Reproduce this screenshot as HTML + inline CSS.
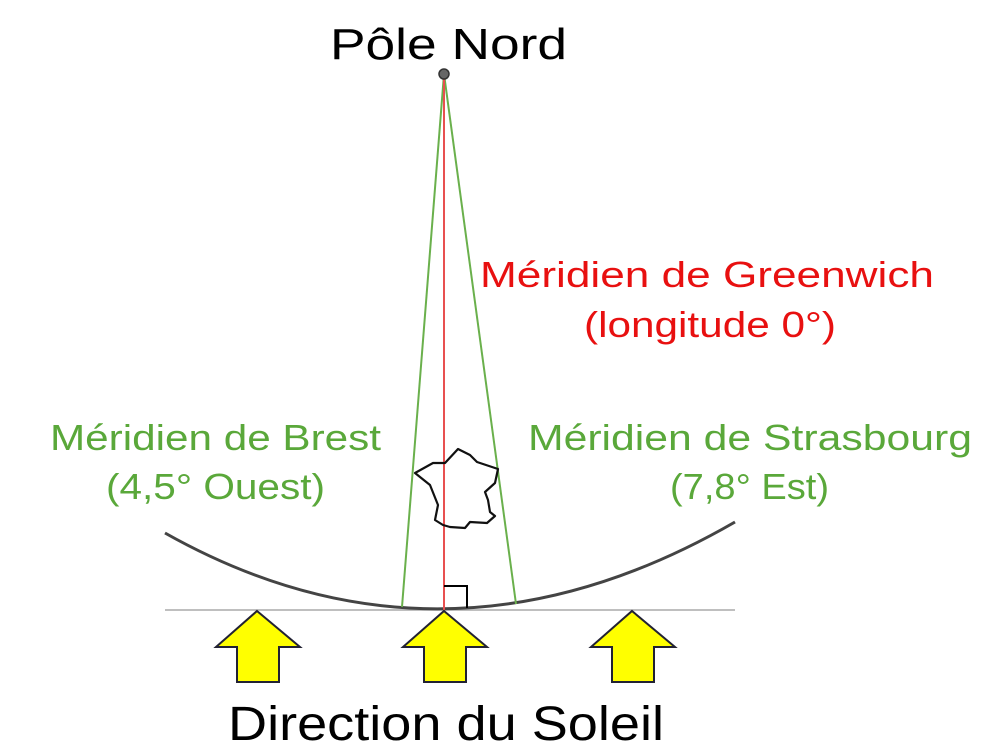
<!DOCTYPE html>
<html><head><meta charset="utf-8"><style>
html,body{margin:0;padding:0;background:#fff;}
svg{display:block;}
text{font-family:"Liberation Sans",sans-serif;}
</style></head><body>
<svg width="1008" height="753" viewBox="0 0 1008 753" xmlns="http://www.w3.org/2000/svg">
<rect width="1008" height="753" fill="#fff"/>
<line x1="165" y1="610" x2="735" y2="610" stroke="#aaa" stroke-width="1.5"/>
<path d="M165,533 Q444,690 735,522" fill="none" stroke="#444" stroke-width="3"/>
<line x1="444" y1="74" x2="402" y2="607" stroke="#6ab04c" stroke-width="2"/>
<line x1="444" y1="74" x2="516" y2="604" stroke="#6ab04c" stroke-width="2"/>
<line x1="444" y1="74" x2="444" y2="610" stroke="#e85050" stroke-width="2"/>
<circle cx="444" cy="74" r="5" fill="#666" stroke="#333" stroke-width="1.5"/>
<polyline points="444,586 467,586 467,608" fill="none" stroke="#000" stroke-width="2"/>
<polygon points="415,473 433,463 445,463 458,449 470,455 477,462 498,469 495,483 485,492 488,500 490,512 495,516 487,523 470,522 465,528 450,527 443,525 435,520 438,505 430,485 420,477" fill="none" stroke="#111" stroke-width="2.2" stroke-linejoin="round"/>
<g fill="#ffff00" stroke="#223" stroke-width="2">
<polygon points="444,611 487,647 466,647 466,682 424,682 424,647 403,647"/>
<polygon points="257,611 300,647 279,647 279,682 237,682 237,647 216,647"/>
<polygon points="632,611 675,647 654,647 654,682 612,682 612,647 591,647"/>
</g>
<g lengthAdjust="spacingAndGlyphs">
<text x="330" y="59" font-size="44" textLength="237" lengthAdjust="spacingAndGlyphs" fill="#000">Pôle Nord</text>
<text x="480" y="287" font-size="36" textLength="454" lengthAdjust="spacingAndGlyphs" fill="#e81010">Méridien de Greenwich</text>
<text x="584" y="337" font-size="36" textLength="252" lengthAdjust="spacingAndGlyphs" fill="#e81010">(longitude 0°)</text>
<text x="50" y="450" font-size="36" textLength="331" lengthAdjust="spacingAndGlyphs" fill="#5aa83a">Méridien de Brest</text>
<text x="106" y="499" font-size="36" textLength="219" lengthAdjust="spacingAndGlyphs" fill="#5aa83a">(4,5° Ouest)</text>
<text x="528" y="450" font-size="36" textLength="444" lengthAdjust="spacingAndGlyphs" fill="#5aa83a">Méridien de Strasbourg</text>
<text x="670" y="499" font-size="36" textLength="159" lengthAdjust="spacingAndGlyphs" fill="#5aa83a">(7,8° Est)</text>
<text x="228" y="740" font-size="48" textLength="436" lengthAdjust="spacingAndGlyphs" fill="#000">Direction du Soleil</text>
</g>
</svg>
</body></html>
